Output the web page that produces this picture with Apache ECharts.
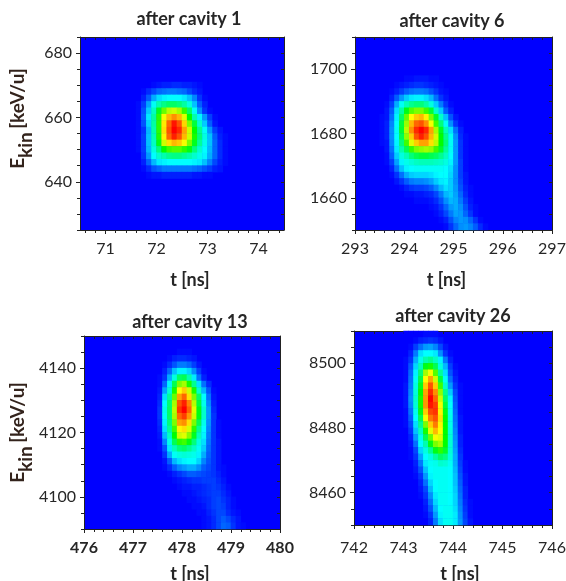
<!DOCTYPE html>
<html><head><meta charset="utf-8">
<style>html,body{margin:0;padding:0;background:#fff}#c{width:566px;height:581px;filter:blur(0.55px)}</style>
<script src="https://cdn.jsdelivr.net/npm/echarts@6/dist/echarts.min.js"></script>
</head><body><div id="c"></div>
<script>
// Intensity levels (0-100). Rows run top to bottom (falling energy);
// each cell is 0.1 ns wide and 2 keV/u tall. firstCol/topRow place the block in the window.
const titles = ['after cavity 1','after cavity 6','after cavity 13','after cavity 26'];
const timeRanges = [[70.5,74.5],[293,297],[476,480],[742,746]];
const energyRanges = [[625,685],[1650,1710],[4090,4150],[8450,8510]];
const timeTicks = [[71,72,73,74],[293,294,295,296,297],[476,477,478,479,480],[742,743,744,745,746]];
const energyTicks = [[640,660,680],[1660,1680,1700],[4100,4120,4140],[8460,8480,8500]];
const firstCols = [11,5,15,10];
const topRows = [23,23,27,29];

const levels1 = [
[0,0,0,0,0,0,0,0,0],
[0,0,0,1,2,3,3,4,4,3,3,2,1],
[0,1,4,7,10,11,12,12,11,10,7,4,2],
[0,3,9,17,22,24,25,25,25,23,19,13,5,1],
[1,6,16,26,33,37,40,40,38,34,28,19,9,3],
[1,8,20,31,47,60,68,70,66,55,40,26,14,5,1],
[1,9,23,34,54,74,82,86,82,72,50,33,24,15,6,1],
[1,8,21,34,54,77,90,98,92,79,62,44,30,20,9,2],
[1,5,18,33,54,78,92,100,96,84,70,50,36,26,15,6,2],
[1,6,19,32,53,76,90,97,92,82,70,52,38,28,19,9,3,1],
[1,6,19,31,48,70,78,82,80,74,62,47,35,27,19,10,4,1],
[1,6,18,28,38,50,56,58,58,54,48,38,30,25,18,10,4,1],
[0,5,15,25,30,33,36,37,37,35,33,30,27,24,17,10,4,1],
[0,3,10,18,23,24,25,25,25,25,25,24,23,19,13,7,3,1],
[0,1,4,8,10,12,12,12,12,12,12,11,10,8,6,3,2],
[0,0,1,2,2,3,3,3,3,3,3,2,2,1,1]
];
const levels2 = [
[0,0,0,0,0,1,1,2,2,2,1,1],
[0,0,0,1,2,3,4,5,5,4,3,2,1],
[0,0,1,3,6,9,11,12,12,11,8,5,2,1],
[0,0,3,9,15,20,23,24,24,22,18,11,5,2],
[0,1,6,17,26,32,36,38,38,34,28,20,12,5,1],
[0,2,9,22,34,48,58,62,62,56,45,30,20,9,3],
[1,2,11,24,40,60,75,80,82,76,62,46,30,19,8,2],
[1,3,13,25,44,65,82,90,92,86,74,56,38,26,14,5,1],
[1,3,14,26,45,68,86,96,100,96,84,66,47,32,22,11,3],
[1,3,14,25,42,64,80,92,97,92,82,70,50,36,26,14,4,1],
[1,2,13,24,38,56,72,80,84,84,78,68,50,38,26,15,5,1],
[0,2,11,23,33,42,55,62,64,66,64,56,46,35,26,15,5,1],
[0,1,9,20,28,32,38,42,44,44,42,40,36,31,25,15,5,1],
[0,1,6,16,24,27,29,31,32,32,32,31,30,28,24,15,6,1],
[0,0,3,11,19,24,25,26,26,26,26,26,26,25,22,14,6,1],
[0,0,1,5,11,17,20,21,21,21,22,24,25,25,21,14,6,2],
[0,0,0,2,5,9,12,13,13,14,16,20,23,24,20,14,7,2],
[0,0,0,0,1,3,5,6,6,7,9,13,18,22,20,15,8,3,1],
[0,0,0,0,0,1,1,2,2,3,4,7,12,18,20,16,10,4,1],
[0,0,0,0,0,0,0,1,1,1,2,4,8,14,18,17,12,6,2],
[0,0,0,0,0,0,0,0,0,0,1,2,5,10,15,17,14,8,3,1],
[0,0,0,0,0,0,0,0,0,0,0,1,3,7,12,16,15,10,5,1],
[0,0,0,0,0,0,0,0,0,0,0,0,1,3,8,13,15,14,10,5,1],
[0,0,0,0,0,0,0,0,0,0,0,0,0,1,5,10,14,15,13,9,4,1]
];
const levels3 = [
[0,0,0,0,1,1,1],
[0,0,1,3,4,4,3,2],
[0,1,4,8,12,12,10,6,2],
[0,3,10,19,24,24,21,14,6,1],
[1,5,17,28,40,42,33,23,11,3],
[1,10,24,42,62,66,52,36,22,11,4],
[2,16,29,52,75,80,70,52,30,18,8,1],
[3,22,35,60,84,90,78,62,40,25,11,2],
[4,25,39,66,92,97,87,68,44,27,13,3],
[5,27,40,68,95,100,90,72,48,30,15,4],
[5,26,40,66,90,94,85,70,48,30,15,5],
[4,24,38,62,84,86,78,62,42,27,14,5,1],
[3,22,35,56,76,78,71,54,36,25,13,5,1],
[2,18,31,50,70,72,63,47,32,24,12,5,1],
[1,13,27,42,54,56,48,38,28,22,11,5,2],
[1,8,23,32,38,40,36,31,26,20,10,5,2],
[0,5,17,26,28,29,28,27,24,17,9,5,2],
[0,2,9,18,22,24,25,25,21,13,8,5,2],
[0,1,4,9,13,15,17,17,14,9,7,5,2,1],
[0,0,1,3,5,7,9,9,8,7,6,5,3,1],
[0,0,0,1,2,3,4,5,5,6,6,6,4,2],
[0,0,0,0,1,2,2,3,3,4,5,6,5,3,1],
[0,0,0,0,0,1,1,2,3,4,5,6,6,4,2],
[0,0,0,0,0,0,1,1,2,3,4,6,7,5,3,1],
[0,0,0,0,0,0,0,1,1,2,4,6,7,6,3,1],
[0,0,0,0,0,0,0,0,1,1,3,5,7,7,4,2,1],
[0,0,0,0,0,0,0,0,0,1,2,4,7,9,7,4,2],
[0,0,0,0,0,0,0,0,0,1,2,4,7,10,9,5,2,1]
];
const levels4 = [
[0,0,0,0,1,1,1],
[0,0,1,3,4,5,4,2],
[0,1,6,11,15,16,13,7,2],
[0,3,12,22,25,25,23,14,5,1],
[1,5,17,27,33,36,31,24,12,3],
[1,8,21,32,48,52,42,28,18,6,1],
[1,10,24,38,66,74,58,35,22,8,2],
[1,11,26,43,75,84,70,44,26,11,3],
[2,12,28,47,80,92,80,56,30,15,5,1],
[2,13,29,50,84,96,86,64,36,20,7,1],
[2,14,30,52,85,100,90,70,40,24,8,1],
[2,13,29,52,85,98,94,74,44,25,9,1],
[1,11,27,48,80,93,95,76,48,26,10,1],
[1,9,25,42,74,88,92,78,50,27,11,2],
[1,7,22,36,62,80,88,76,50,27,12,2],
[0,5,19,31,52,72,82,75,50,28,13,2],
[0,3,15,27,42,60,74,72,50,29,14,3],
[0,2,11,25,33,48,62,66,50,29,15,3],
[0,1,7,21,28,36,48,54,46,29,16,4],
[0,1,5,16,25,28,34,40,37,28,17,5],
[0,0,3,12,23,26,27,30,29,26,17,6,1],
[0,0,2,8,19,25,26,26,26,25,18,7,1],
[0,0,1,5,15,24,26,26,26,25,19,8,2],
[0,0,0,3,11,21,25,26,26,25,19,9,2],
[0,0,0,2,7,18,25,26,26,25,20,10,3],
[0,0,0,1,5,14,23,26,26,25,21,11,3],
[0,0,0,0,3,11,21,26,26,25,21,12,4,1],
[0,0,0,0,2,8,18,25,26,26,22,13,5,1],
[0,0,0,0,1,5,15,24,26,26,23,14,6,1],
[0,0,0,0,0,3,12,22,26,26,23,15,7,2]
];
const allLevels = [levels1, levels2, levels3, levels4];

const layout = [
  {left:80, top:37, width:204, height:193},
  {left:355, top:37, width:197, height:193},
  {left:84, top:336, width:196, height:193},
  {left:354, top:331, width:198, height:194}
];
const font = 'Lato, "Open Sans", sans-serif';
const ink = '#262626';
const xNameGap = [41,41,36,40];
const xNamePad = [[0,0,0,16],[0,14,0,0],[0,0,0,16],[0,0,0,14]];
const xLabelMargin = [11,11,11,15];
const yNamePad = [[0,0,0,30],[0,0,0,0],[0,0,0,0],[0,0,0,0]];
const titlePos = [[189,10],[452,12],[190,313],[453,307]];

function steps(min, max, step){
  const out = [];
  for (let i = 0; min + i*step <= max + 1e-6; i++) out.push(+(min + i*step).toFixed(3));
  return out;
}
const grids=[], xAxes=[], yAxes=[], series=[];
titles.forEach((name, p) => {
  const [t0,t1] = timeRanges[p], [e0,e1] = energyRanges[p];
  const bold = p === 2 ? 'bold' : 'normal';
  grids.push({...layout[p], outerBoundsMode:'none', show:true, backgroundColor:'#0000ff', borderWidth:0});
  const xMinor = steps(Math.ceil(t0), t1, 0.2).concat(t0 % 1 ? [70.6,70.8] : []);
  const yMinor = steps(e0, e1, 5);
  const line = {show:true, onZero:false, lineStyle:{color:'#222', width:1}};
  const base = {type:'value', gridIndex:p, splitLine:{show:false}};
  // bottom: labels and long ticks
  xAxes.push({...base, position:'bottom', min:t0, max:t1, axisLine:line,
    axisTick:{show:true, customValues:timeTicks[p], length:4, lineStyle:{color:'#222'}},
    axisLabel:{customValues:timeTicks[p], margin:xLabelMargin[p], fontFamily:font, fontSize:16, fontWeight:bold, color:ink, hideOverlap:false, formatter:v=>String(v)},
    name:'t [ns]', nameLocation:'middle', nameGap:xNameGap[p],
    nameTextStyle:{fontFamily:font, fontSize:18, fontWeight:'bold', color:ink, padding:xNamePad[p]}});
  // bottom: short ticks
  xAxes.push({...base, position:'bottom', min:t0, max:t1, axisLine:{show:false},
    axisTick:{show:true, customValues:xMinor, length:3, lineStyle:{color:'#222'}}, axisLabel:{show:false}});
  // top: inner ticks
  xAxes.push({...base, position:'top', min:t0, max:t1, axisLine:line,
    axisTick:{show:true, inside:true, customValues:xMinor, length:3, lineStyle:{color:'#222'}}, axisLabel:{show:false}});
  // left: labels and long ticks
  yAxes.push({...base, position:'left', min:e0, max:e1, axisLine:line,
    axisTick:{show:true, customValues:energyTicks[p], length:4, lineStyle:{color:'#222'}},
    axisLabel:{customValues:energyTicks[p], margin:8, fontFamily:font, fontSize:16, color:ink, formatter:v=>String(v)},
    ...(p % 2 === 0 ? {
      name:'{e|E}{s|kin} {e|[keV/u]}', nameLocation:'middle', nameRotate:90, nameGap:p===0?45:49,
      nameTextStyle:{padding:yNamePad[p], rich:{
        e:{fontFamily:font, fontSize:19, fontWeight:'bold', color:'#33231c', padding:[0,0,8,0]},
        s:{fontFamily:font, fontSize:19, fontWeight:'bold', color:'#33231c', verticalAlign:'bottom'}
      }}
    } : {})});
  // left: short ticks
  yAxes.push({...base, position:'left', min:e0, max:e1, axisLine:{show:false},
    axisTick:{show:true, customValues:yMinor, length:3, lineStyle:{color:'#222'}}, axisLabel:{show:false}});
  // right: inner ticks
  yAxes.push({...base, position:'right', min:e0, max:e1, axisLine:line,
    axisTick:{show:true, inside:true, customValues:yMinor, length:3, lineStyle:{color:'#222'}}, axisLabel:{show:false}});
  // hidden band axes that carry the heat cells
  const cols = steps(0, 39, 1), rows = steps(0, 29, 1);
  xAxes.push({type:'category', gridIndex:p, position:'bottom', show:false, data:cols});
  yAxes.push({type:'category', gridIndex:p, position:'left', show:false, data:rows});
  const data = [];
  allLevels[p].forEach((row, r) => row.forEach((v, c) => data.push([firstCols[p] + c, topRows[p] - r, v])));
  series.push({type:'heatmap', xAxisIndex:p*4+3, yAxisIndex:p*4+3, data, progressive:0, silent:true, emphasis:{disabled:true}});
});

const chart = echarts.init(document.getElementById('c'), null, {renderer:'canvas'});
chart.setOption({
  animation:false,
  backgroundColor:'#fff',
  title: titles.map((text,i)=>({text, left:titlePos[i][0], top:titlePos[i][1], textAlign:'center',
    textStyle:{fontFamily:font, fontSize:18, fontWeight:'bold', color:ink}, padding:0})),
  grid:grids, xAxis:xAxes, yAxis:yAxes, series,
  visualMap:{type:'continuous', show:false, min:0, max:100, seriesIndex:[0,1,2,3],
    inRange:{color:['#0000ff','#00ffff','#00ff00','#ffff00','#ff0000']}}
});
</script></body></html>
